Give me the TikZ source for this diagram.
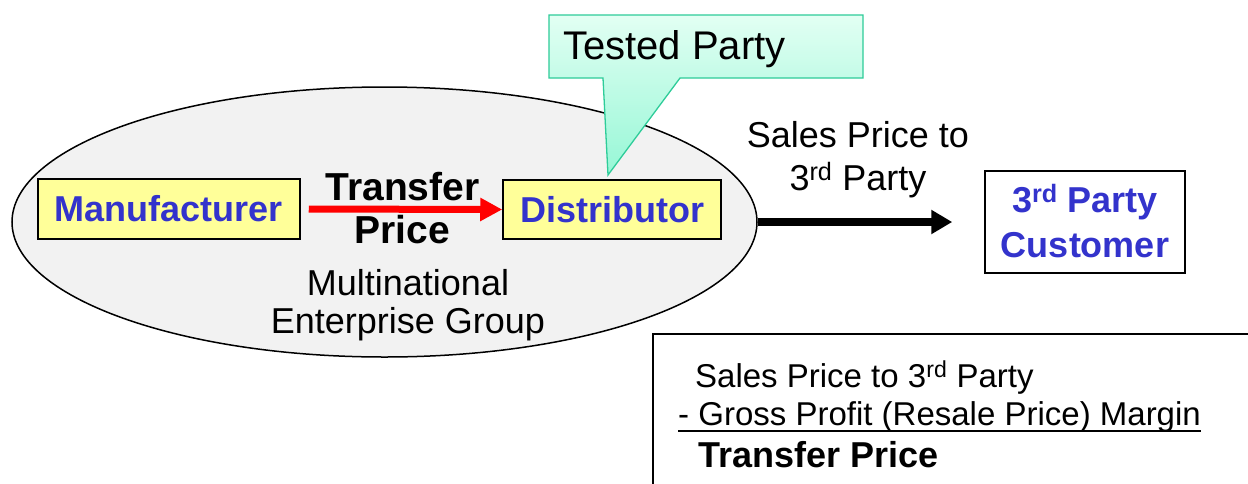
\documentclass[tikz,border=0pt]{standalone}
\usepackage{fontspec}
\setmainfont{Liberation Sans}
\usetikzlibrary{shapes.geometric,arrows.meta}
\definecolor{txtblue}{HTML}{3333CC}
\definecolor{boxyellow}{HTML}{FFFF99}
\definecolor{megfill}{HTML}{F2F2F2}
\definecolor{calltop}{HTML}{E2FFF3}
\definecolor{callbot}{HTML}{96F7D6}
\definecolor{callline}{HTML}{2ECC99}
\begin{document}
\begin{tikzpicture}[x=1pt,y=-1pt,
  fs/.style={font=\fontsize{#1}{#1}\selectfont},
  fsb/.style={font=\fontsize{#1}{#1}\selectfont\bfseries},
  lbl/.style={inner sep=0pt, anchor=base},
  lblw/.style={inner sep=0pt, anchor=base west},
  ybox/.style={draw=black, line width=1.5pt, fill=boxyellow, inner sep=0pt,
    text=txtblue, fsb=36},
  redarrow/.style={draw=red, line width=7pt, -{Triangle[length=22pt,width=22pt]}},
  blkarrow/.style={draw=black, line width=8pt, -{Triangle[length=21pt,width=23pt]}}
]
\useasboundingbox (0,0) rectangle (1248,483);
\clip (0,0) rectangle (1248,483);
\fill[white] (0,0) rectangle (1248,483);

% multinational enterprise group
\node[ellipse, draw=black, line width=1.5pt, fill=megfill, inner sep=0pt,
  minimum width=745pt, minimum height=270pt] (meg) at (384.5,222) {};

% callout
\path[top color=calltop, bottom color=callbot, draw=callline, line width=1.3pt]
  (549,15) -- (863,15) -- (863,78) -- (680,78) -- (608,175) -- (603,78) -- (549,78) -- cycle;
\node[lblw, fs=40] (tested) at (563,59) {Tested Party};

% boxes
\node[ybox, minimum width=262pt, minimum height=60pt] (man) at (169,209) {Manufacturer};
\node[ybox, minimum width=218pt, minimum height=59pt] (dist) at (612,209.5) {Distributor};

\draw[redarrow, shorten <=8pt] (man.east) -- (dist.west);
\node[lbl, fsb=39] (tp1) at (402.5,200) {Transfer};
\node[lbl, fsb=39] (tp2) at (402.5,243) {Price};

\node[lbl, fs=36] (mn1) at (408,295) {Multinational};
\node[lbl, fs=36] (mn2) at (408,333) {Enterprise Group};

% third party customer
\node[draw=black, line width=1.5pt, fill=white, inner sep=0pt,
  minimum width=200pt, minimum height=102pt] (cust) at (1085,222) {};
\node[lbl, fsb=36, text=txtblue] (cust1) at (1085,212) {3\textsuperscript{rd} Party};
\node[lbl, fsb=36, text=txtblue] (cust2) at (1085,257) {Customer};

\draw[blkarrow] (meg.east) -- ([xshift=-32pt]cust.west);
\node[lbl, fs=36] (sp1) at (858,147) {Sales Price to};
\node[lbl, fs=36] (sp2) at (858,190) {3\textsuperscript{rd} Party};

% calculation box
\draw[line width=1.5pt] (653,520) -- (653,334) -- (1280,334);
\node[lblw, fs=33] (c1) at (695,387) {Sales Price to 3\textsuperscript{rd} Party};
\node[lblw, fs=33] (c2) at (678,425) {- Gross Profit (Resale Price) Margin};
\draw[line width=1.6pt] ([yshift=-6pt]c2.base west) -- ([yshift=-6pt]c2.base east);
\node[lblw, fsb=36] (c3) at (698,467) {Transfer Price};
\end{tikzpicture}
\end{document}
